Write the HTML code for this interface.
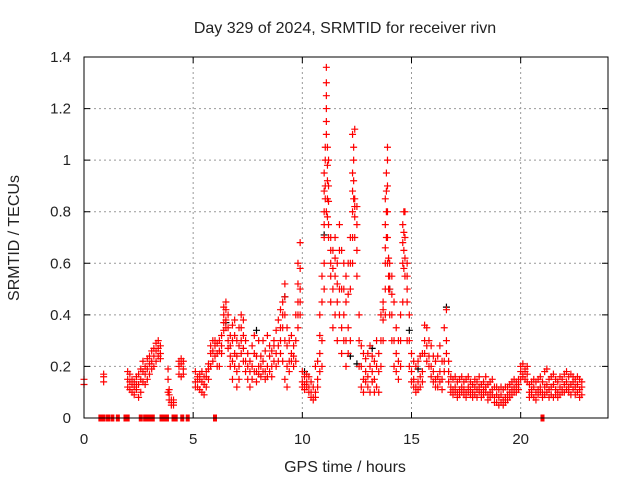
<!DOCTYPE html>
<html><head><meta charset="utf-8"><style>
body{margin:0;background:#fff}
svg{display:block}
text{font-family:"Liberation Sans",sans-serif;font-size:15px;fill:#222}
.big{font-size:16px}
</style></head><body>
<svg id="chart" width="640" height="480">
<text class="big" x="345" y="33" text-anchor="middle">Day 329 of 2024, SRMTID for receiver rivn</text>
<text class="big" x="345" y="472" text-anchor="middle">GPS time / hours</text>
<text class="big" transform="translate(19,238) rotate(-90)" text-anchor="middle">SRMTID / TECUs</text>
<g id="grid"></g>
<g id="ticks"></g>
<g id="black"></g>
<g id="red"></g>
<g id="zeros"></g>
<rect x="84" y="57" width="524" height="361" fill="none" stroke="#000" stroke-width="1"/>
</svg>
<script>
const xTicks=[0,5,10,15,20];
const yTicks=[0,0.2,0.4,0.6,0.8,1,1.2,1.4];
const yTickLabels=["0","0.2","0.4","0.6","0.8","1","1.2","1.4"];
const redRows=[
[0.0,.13,.15,.13],[0.9,.14,.17,.16],
[2.0,.12,.18,.15],[2.1,.11,.17,.14],[2.2,.10,.15,.13],[2.3,.09,.14,.12],[2.4,.11,.16,.13],[2.5,.08,.13,.17],[2.6,.10,.19,.15],[2.7,.14,.22,.18],[2.8,.13,.20,.17],[2.9,.15,.23,.19],[3.0,.17,.24,.21],[3.1,.19,.26,.22],[3.2,.20,.27,.24],[3.3,.22,.29,.26],[3.4,.24,.30,.27],[3.5,.25,.28,.23],
[3.85,.15,.19,.10],[3.9,.07,.11,.09],[4.0,.05,.07,.06],[4.1,.05,.06,.07],[4.35,.17,.20,.22],[4.45,.16,.21,.23],[4.55,.17,.19,.22],
[5.1,.14,.18,.12],[5.2,.12,.16,.15],[5.3,.11,.15,.17],[5.4,.10,.14,.18],[5.5,.09,.13,.16],[5.6,.12,.16,.18],[5.7,.15,.19,.21],[5.8,.20,.25,.28],[5.9,.22,.26,.30],[6.0,.24,.28,.30],[6.1,.25,.20,.29],[6.2,.26,.20,.30],[6.3,.28,.25,.32],[6.4,.40,.43,.37,.34],[6.5,.42,.45,.38,.35],[6.6,.35,.40,.30,.27],[6.7,.28,.32,.20,.24],[6.8,.22,.36,.15,.30],[6.9,.20,.38,.25,.32],
[7.0,.12,.30,.18,.24],[7.1,.20,.35,.15,.28],[7.2,.30,.40,.25,.35],[7.3,.32,.38,.22,.27],[7.4,.22,.30,.18],[7.5,.20,.25,.15],[7.6,.18,.22,.12],[7.7,.20,.28,.15],[7.8,.25,.32,.18],[7.9,.18,.24,.14],[8.0,.20,.30,.17],[8.1,.16,.24,.20],[8.2,.22,.30,.18],[8.3,.18,.26,.15],[8.4,.20,.32,.16],[8.5,.24,.28,.18],[8.6,.20,.26,.16],[8.7,.22,.30,.28],[8.8,.25,.34,.20],[8.9,.28,.38,.22],[9.0,.30,.42,.25,.35],[9.1,.35,.45,.22,.40],[9.2,.40,.52,.15,.30,.47],[9.3,.28,.35,.12,.20],[9.4,.22,.30,.18],[9.5,.25,.32,.22],[9.6,.24,.28,.20],[9.7,.30,.40,.22],[9.8,.45,.60,.35,.52,.40],[9.9,.50,.68,.40,.58,.45],
[10.0,.14,.18,.12],[10.1,.13,.16,.11],[10.2,.14,.17,.12],[10.3,.12,.16,.10],[10.4,.10,.14,.08],[10.5,.08,.12,.07],[10.6,.10,.20,.08],[10.7,.15,.22,.12],[10.8,.25,.40,.18,.32],[10.9,.30,.55,.20,.45],[11.0,.70,.95,.50,.60,.80,.88,.75],[11.05,1.0,1.05,.90,.85],[11.1,1.10,1.36,.80,1.30,1.25,1.20,1.15],[11.15,1.05,.98,.92,.85,.78],[11.2,.90,1.00,.75,.84,.70],[11.3,.60,.70,.45,.55,.65],[11.4,.50,.65,.35,.58],[11.5,.55,.70,.40,.62],[11.6,.45,.60,.30,.52],[11.7,.50,.75,.40,.65],[11.8,.35,.65,.25,.50],[11.9,.40,.60,.30,.50],
[12.0,.30,.55,.20,.45],[12.1,.35,.60,.25,.48],[12.2,.50,.70,.30,.60],[12.3,.80,1.10,.60,.95,.88,.70],[12.35,1.05,1.0,.92,.85],[12.4,.85,1.12,.70,.78,.82],[12.5,.75,.82,.55,.65],[12.6,.30,.40,.20],[12.7,.20,.28,.12],[12.8,.15,.25,.10],[12.9,.18,.23,.14],[13.0,.16,.25,.12],[13.1,.20,.28,.10],[13.2,.18,.24,.14],[13.3,.15,.22,.10],[13.4,.20,.30,.12],[13.5,.18,.25,.10],[13.6,.30,.40,.20],[13.7,.38,.45,.30,.42],[13.8,.60,.85,.40,.50,.75,.66],[13.85,.95,.88,.80,.70],[13.9,.90,1.05,.70,1.0,.80,.60],[13.95,.62,.55,.50],
[14.0,.50,.60,.40,.55],[14.1,.40,.55,.30,.48],[14.2,.30,.45,.20],[14.3,.25,.35,.18],[14.4,.22,.30,.15],[14.5,.30,.40,.20],[14.6,.60,.75,.45,.68],[14.65,.80,.72,.65,.58],[14.7,.70,.80,.55,.62],[14.8,.50,.60,.30,.55,.45],[14.9,.30,.40,.20],[15.0,.18,.25,.14],[15.1,.15,.22,.12],[15.2,.12,.20,.10],[15.3,.14,.22,.11],[15.4,.16,.24,.12],[15.5,.18,.25,.14],[15.6,.30,.36,.25],[15.7,.28,.35,.22],[15.8,.24,.30,.20],[15.9,.20,.28,.16],
[16.0,.18,.24,.14],[16.1,.15,.22,.12],[16.2,.16,.24,.12],[16.3,.18,.28,.14],[16.4,.15,.22,.11],[16.5,.22,.35,.18],[16.6,.30,.42,.25],[16.7,.18,.22,.14],[16.8,.12,.16,.10],[16.9,.11,.15,.09],
[17.0,.12,.16,.10],[17.1,.10,.14,.08],[17.2,.11,.15,.09],[17.3,.12,.16,.10],[17.4,.11,.14,.09],[17.5,.10,.15,.08],[17.6,.12,.16,.10],[17.7,.11,.14,.09],[17.8,.10,.13,.08],[17.9,.12,.15,.09],
[18.0,.11,.14,.08],[18.1,.12,.16,.10],[18.2,.10,.13,.08],[18.3,.11,.14,.09],[18.4,.12,.16,.10],[18.5,.09,.13,.07],[18.6,.10,.14,.08],[18.7,.11,.15,.09],[18.8,.08,.12,.06],[18.9,.09,.12,.06],
[19.0,.08,.11,.05],[19.1,.09,.12,.06],[19.2,.07,.11,.05],[19.3,.08,.12,.06],[19.4,.09,.12,.07],[19.5,.10,.13,.08],[19.6,.11,.14,.09],[19.7,.12,.15,.10],[19.8,.12,.14,.10],[19.9,.13,.15,.11],
[20.0,.15,.20,.18],[20.1,.16,.21,.17],[20.2,.15,.19,.18],[20.3,.14,.20,.17],[20.4,.10,.13,.08],[20.5,.11,.14,.09],[20.6,.12,.15,.08],[20.7,.10,.14,.07],[20.8,.11,.15,.09],[20.9,.12,.16,.10],
[21.0,.10,.14,.08],[21.1,.12,.18,.09],[21.2,.13,.19,.10],[21.3,.11,.15,.08],[21.4,.12,.16,.09],[21.5,.13,.17,.08],[21.6,.11,.15,.09],[21.7,.10,.14,.08],[21.8,.12,.16,.09],[21.9,.11,.15,.10],
[22.0,.13,.17,.10],[22.1,.14,.18,.11],[22.2,.12,.16,.10],[22.3,.13,.17,.09],[22.4,.14,.16,.11],[22.5,.12,.15,.09],[22.6,.13,.16,.10],[22.7,.11,.15,.08],[22.8,.12,.14,.09]
];
const blackPts=[[11.0,.71],[12.5,.21],[14.9,.34],[9.2,.47],[7.9,.34],[16.6,.43],[6.5,.37],[14.0,.50],[12.2,.24],[10.1,.18],[13.2,.27],[15.3,.19]];
const zeroTimes=[0.75,0.9,1.1,1.3,1.55,1.9,2.0,2.6,2.8,2.95,3.05,3.15,3.55,3.7,3.8,4.1,4.2,4.5,4.75,6.0,21.0];

const X0=84,X1=608,Y0=418,Y1=57,XMAX=24,YMAX=1.4;
const sx=t=>X0+(X1-X0)*t/XMAX;
const sy=v=>Y0-(Y0-Y1)*v/YMAX;
const NS="http://www.w3.org/2000/svg";
function mk(tag,parent){const e=document.createElementNS(NS,tag);parent.appendChild(e);return e;}
const grid=document.getElementById('grid'),ticks=document.getElementById('ticks');
xTicks.forEach((t,i)=>{
  const x=sx(t);
  if(t>0){const g=mk('line',grid);g.setAttribute('x1',x);g.setAttribute('x2',x);g.setAttribute('y1',Y1);g.setAttribute('y2',Y0);g.setAttribute('stroke','#999');g.setAttribute('stroke-dasharray','2,3');
  
  }
  const tk=mk('path',ticks);tk.setAttribute('d',`M${x},${Y0}v-6M${x},${Y1}v6`);tk.setAttribute('stroke','#000');
  
  
  const l=mk('text',ticks);l.setAttribute('x',x);l.setAttribute('y',444);l.setAttribute('text-anchor','middle');l.textContent=String(t);
  
  
});
yTicks.forEach((v,i)=>{
  const y=sy(v);
  if(v>0&&v<YMAX){const g=mk('line',grid);g.setAttribute('x1',X0);g.setAttribute('x2',X1);g.setAttribute('y1',y);g.setAttribute('y2',y);g.setAttribute('stroke','#999');g.setAttribute('stroke-dasharray','2,3');
  
  }
  const tk=mk('path',ticks);tk.setAttribute('d',`M${X0},${y}h6M${X1},${y}h-6`);tk.setAttribute('stroke','#000');
  
  
  const l=mk('text',ticks);l.setAttribute('x',71);l.setAttribute('y',y+5);l.setAttribute('text-anchor','end');l.textContent=yTickLabels[i];
  
  
});
function crosses(pts,color,g){
  let d='';
  pts.forEach(([t,v])=>{const x=sx(t),y=sy(v);d+=`M${x-3.5},${y}h7M${x},${y-3.5}v7`;});
  const p=mk('path',g);p.setAttribute('d',d);p.setAttribute('stroke',color);p.setAttribute('stroke-width','1.2');p.setAttribute('fill','none');
  
  
}
crosses(blackPts,'#000',document.getElementById('black'));
const redPts=[];
redRows.forEach(r=>{for(let k=1;k<r.length;k++)redPts.push([r[0],r[k]]);});
crosses(redPts,'#f00',document.getElementById('red'));
const zg=document.getElementById('zeros');
zeroTimes.forEach(t=>{
  const r=mk('rect',zg);r.setAttribute('x',sx(t)-2);r.setAttribute('y',Y0-3.5);r.setAttribute('width',4);r.setAttribute('height',7);r.setAttribute('fill','#f00');
  
  
});
</script>
</body></html>
